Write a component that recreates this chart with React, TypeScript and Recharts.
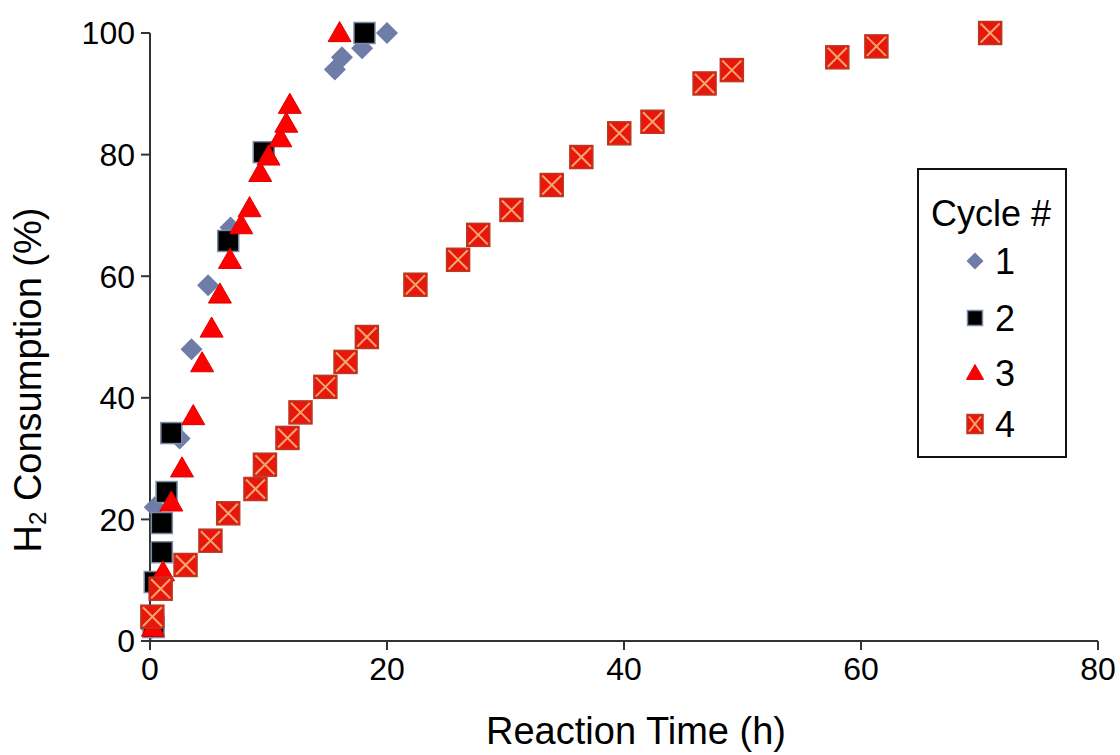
import React from "react";
import { ScatterChart, Scatter, XAxis, YAxis, Legend, Label } from "recharts";

// Reaction time (h) and H2 consumption (%) for each reuse cycle
const cycle1Hours = [0.1, 0.4, 2.5, 3.5, 4.9, 6.8, 15.6, 16.2, 17.9, 20.0];
const cycle1Pct = [2, 22, 33.3, 48, 58.5, 68, 94, 96, 97.5, 100];

const cycle2Hours = [0.3, 0.4, 1.0, 1.0, 1.4, 1.8, 6.6, 9.6, 18.1];
const cycle2Pct = [2.3, 9.7, 14.6, 19.4, 24.5, 34.2, 65.8, 80.4, 100];

const cycle3Hours = [0.25, 1.1, 1.8, 2.7, 3.65, 4.4, 5.2, 5.9, 6.75, 7.7, 8.4, 9.3, 10.0, 11.0, 11.5, 11.8, 16.0];
const cycle3Pct = [2.2, 11.3, 22.8, 28.4, 37, 45.7, 51.4, 57, 62.7, 68.4, 71.2, 77, 79.7, 82.7, 85.1, 88.2, 100];

const cycle4Hours = [0.2, 0.9, 3.0, 5.1, 6.6, 8.9, 9.7, 11.6, 12.7, 14.8, 16.5, 18.3, 22.4, 26.0, 27.7, 30.5, 33.9, 36.4, 39.6, 42.4, 46.8, 49.1, 58.0, 61.3, 70.9];
const cycle4Pct = [4, 8.6, 12.5, 16.5, 21, 25, 29, 33.4, 37.6, 41.8, 45.9, 50, 58.6, 62.7, 66.8, 70.9, 75, 79.6, 83.5, 85.4, 91.7, 93.9, 96, 97.8, 100];

const cycleNames = ["1", "2", "3", "4"];
const xTicks = [0, 20, 40, 60, 80];
const yTicks = [0, 20, 40, 60, 80, 100];

const FONT = "'Liberation Sans', Arial, Helvetica, sans-serif";
const AXIS = "#333333";
const DIAMOND_FILL = "#6E7CA8";
const TRI_FILL = "#FF0000";
const XSQ_FILL = "#E8160E";
const XSQ_LINE = "#F2A868";

const toPoints = (hours: number[], pct: number[]) => hours.map((x, i) => ({ x, y: pct[i] }));

const cycle1 = toPoints(cycle1Hours, cycle1Pct);
const cycle2 = toPoints(cycle2Hours, cycle2Pct);
const cycle3 = toPoints(cycle3Hours, cycle3Pct);
const cycle4 = toPoints(cycle4Hours, cycle4Pct);

// Marker glyphs (shared by plot and legend)
const diamond = (cx: number, cy: number, r: number) => (
  <polygon points={`${cx},${cy - r} ${cx + r},${cy} ${cx},${cy + r} ${cx - r},${cy}`} fill={DIAMOND_FILL} />
);
const square = (cx: number, cy: number, h: number) => (
  <rect x={cx - h} y={cy - h} width={2 * h} height={2 * h} fill="#000" stroke="#7D8CA6" strokeWidth={1.5} />
);
const triangle = (cx: number, cy: number, r: number) => (
  <polygon
    points={`${cx},${cy - r} ${cx + r},${cy + r * 0.75} ${cx - r},${cy + r * 0.75}`}
    fill={TRI_FILL}
    stroke="#E00000"
    strokeWidth={1}
  />
);
const xSquare = (cx: number, cy: number, hw: number, hh: number) => (
  <g>
    <rect x={cx - hw} y={cy - hh} width={2 * hw} height={2 * hh} fill={XSQ_FILL} stroke="#B83A22" strokeWidth={1.5} />
    <line x1={cx - hw + 2} y1={cy - hh + 2} x2={cx + hw - 2} y2={cy + hh - 2} stroke={XSQ_LINE} strokeWidth={2} />
    <line x1={cx + hw - 2} y1={cy - hh + 2} x2={cx - hw + 2} y2={cy + hh - 2} stroke={XSQ_LINE} strokeWidth={2} />
  </g>
);

const DiamondShape = (p: any) => diamond(p.cx, p.cy, 11);
const SquareShape = (p: any) => square(p.cx, p.cy, 10.5);
const TriangleShape = (p: any) => triangle(p.cx, p.cy, 11.5);
const XSquareShape = (p: any) => xSquare(p.cx, p.cy, 11.5, 11.5);

const legendGlyphs = [
  (cx: number, cy: number) => diamond(cx, cy, 8.5),
  (cx: number, cy: number) => square(cx, cy, 7.5),
  (cx: number, cy: number) => triangle(cx, cy, 8.5),
  (cx: number, cy: number) => xSquare(cx, cy, 8, 9.5),
];

const CycleLegend = () => (
  <div
    style={{
      width: 150,
      height: 290,
      boxSizing: "border-box",
      border: "2px solid #111",
      background: "#fff",
    }}
  >
    <svg width={146} height={286} style={{ display: "block", fontFamily: FONT }}>
      <text x={72} y={56} textAnchor="middle" fontSize={36} fill="#000">
        Cycle #
      </text>
      {cycleNames.map((name, i) => {
        const cy = [91, 148, 203, 254][i];
        return (
          <g key={name}>
            {legendGlyphs[i](56, cy)}
            <text x={76} y={cy + 13} fontSize={36} fill="#000">
              {name}
            </text>
          </g>
        );
      })}
    </svg>
  </div>
);

const XTitle = (props: any) => {
  const vb = props.viewBox || {};
  return (
    <text x={vb.x + vb.width / 2 + 12} y={vb.y + 103} textAnchor="middle" fontSize={38} fill="#000" fontFamily={FONT}>
      Reaction Time (h)
    </text>
  );
};

const YTitle = () => {
  const cx = 28;
  const cy = 380;
  return (
    <text
      x={cx}
      y={cy}
      transform={`rotate(-90 ${cx} ${cy})`}
      textAnchor="middle"
      dominantBaseline="central"
      fontSize={38}
      fill="#000"
      fontFamily={FONT}
    >
      H
      <tspan fontSize={24} dy={9}>
        2
      </tspan>
      <tspan dy={-9}> Consumption (%)</tspan>
    </text>
  );
};

export default function App() {
  return (
    <div
      style={{
        position: "absolute",
        left: 0,
        top: 0,
        width: 1120,
        height: 755,
        overflow: "hidden",
        fontFamily: FONT,
        background: "#fff",
      }}
    >
      <ScatterChart width={1120} height={755} margin={{ top: 33, right: 22, bottom: 0, left: 0 }}>
        <XAxis
          type="number"
          dataKey="x"
          domain={[0, 80]}
          ticks={xTicks}
          interval={0}
          height={114}
          tickSize={9}
          tickMargin={7}
          axisLine={{ stroke: AXIS, strokeWidth: 2 }}
          tickLine={{ stroke: AXIS, strokeWidth: 2 }}
          tick={{ fontSize: 32, fill: "#000", fontFamily: FONT }}
        >
          <Label content={XTitle} />
        </XAxis>
        <YAxis
          type="number"
          dataKey="y"
          domain={[0, 100]}
          ticks={yTicks}
          interval={0}
          width={150}
          tickSize={9}
          tickMargin={6}
          axisLine={{ stroke: AXIS, strokeWidth: 2 }}
          tickLine={{ stroke: AXIS, strokeWidth: 2 }}
          tick={{ fontSize: 32, fill: "#000", fontFamily: FONT }}
        >
          <Label content={YTitle} />
        </YAxis>
        <Legend
          layout="horizontal"
          verticalAlign="middle"
          align="center"
          content={CycleLegend}
          wrapperStyle={{ position: "absolute", left: 917, top: 168, width: 150, height: 290 }}
        />
        <Scatter name={cycleNames[0]} data={cycle1} shape={DiamondShape} isAnimationActive={false} />
        <Scatter name={cycleNames[1]} data={cycle2} shape={SquareShape} isAnimationActive={false} />
        <Scatter name={cycleNames[2]} data={cycle3} shape={TriangleShape} isAnimationActive={false} />
        <Scatter name={cycleNames[3]} data={cycle4} shape={XSquareShape} isAnimationActive={false} />
      </ScatterChart>
    </div>
  );
}
